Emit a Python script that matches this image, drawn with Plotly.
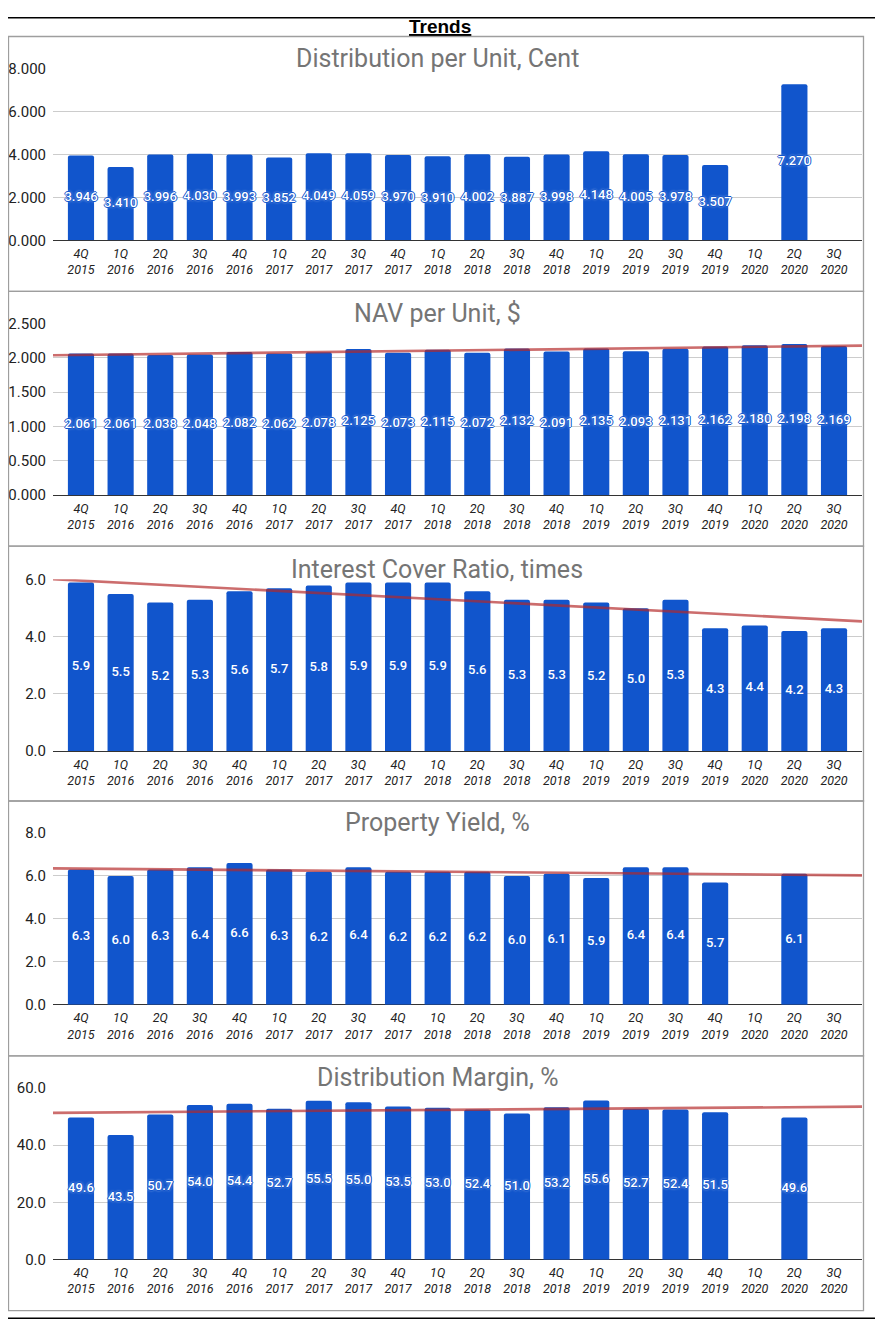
import numpy as np
import plotly.graph_objects as go

# ---- data -------------------------------------------------------------
periods = [
    "4Q<br>2015", "1Q<br>2016", "2Q<br>2016", "3Q<br>2016", "4Q<br>2016",
    "1Q<br>2017", "2Q<br>2017", "3Q<br>2017", "4Q<br>2017", "1Q<br>2018",
    "2Q<br>2018", "3Q<br>2018", "4Q<br>2018", "1Q<br>2019", "2Q<br>2019",
    "3Q<br>2019", "4Q<br>2019", "1Q<br>2020", "2Q<br>2020", "3Q<br>2020",
]

dpu_cent = [3.946, 3.410, 3.996, 4.030, 3.993, 3.852, 4.049, 4.059, 3.970, 3.910,
            4.002, 3.887, 3.998, 4.148, 4.005, 3.978, 3.507, None, 7.270, None]
nav_per_unit = [2.061, 2.061, 2.038, 2.048, 2.082, 2.062, 2.078, 2.125, 2.073, 2.115,
                2.072, 2.132, 2.091, 2.135, 2.093, 2.131, 2.162, 2.180, 2.198, 2.169]
interest_cover = [5.9, 5.5, 5.2, 5.3, 5.6, 5.7, 5.8, 5.9, 5.9, 5.9,
                  5.6, 5.3, 5.3, 5.2, 5.0, 5.3, 4.3, 4.4, 4.2, 4.3]
property_yield = [6.3, 6.0, 6.3, 6.4, 6.6, 6.3, 6.2, 6.4, 6.2, 6.2,
                  6.2, 6.0, 6.1, 5.9, 6.4, 6.4, 5.7, None, 6.1, None]
dist_margin = [49.6, 43.5, 50.7, 54.0, 54.4, 52.7, 55.5, 55.0, 53.5, 53.0,
               52.4, 51.0, 53.2, 55.6, 52.7, 52.4, 51.5, None, 49.6, None]

titles = ["Distribution per Unit, Cent", "NAV per Unit, $", "Interest Cover Ratio, times",
          "Property Yield, %", "Distribution Margin, %"]

# ---- layout helpers ---------------------------------------------------
W, H = 873, 1320
OFF_X = 8            # horizontal page offset of the figure
OFF_Y, SY = 15.5, 0.987  # vertical offset / scale seen in the screenshot


def fx(p):
    return (p - OFF_X) / W


def fy(p):
    return 1 - ((p - OFF_Y) / SY) / H


BLUE = "#1155cc"
TREND = "rgba(180,40,40,0.68)"
X_RANGE = [-0.706, 19.706]
idx = list(range(len(periods)))

panels = [
    # values, label format, y max, dtick, tick format, trendline, outlined labels
    (dpu_cent, "{:.3f}", 8, 2, ".3f", False, True),
    (nav_per_unit, "{:.3f}", 2.5, 0.5, ".3f", True, True),
    (interest_cover, "{:.1f}", 6.02, 2, ".1f", True, False),
    (property_yield, "{:.1f}", 8, 2, ".1f", True, False),
    (dist_margin, "{:.1f}", 60, 20, ".1f", True, True),
]
plot_tops = [67, 322, 578, 832, 1087]
plot_h = 172
box_tops = [35, 290, 545, 800, 1055]
box_h = 255

outline = ("1px 0 0 %s, -1px 0 0 %s, 0 1px 0 %s, 0 -1px 0 %s, "
           "0 0 3px #ffffff" % (BLUE, BLUE, BLUE, BLUE))

fig = go.Figure()
layout = {}
shapes = []
annotations = []

for k, (vals, fmt, ymax, dtick, tfmt, trend, outlined) in enumerate(panels, start=1):
    xa, ya = f"x{k}", f"y{k}"
    fig.add_trace(go.Bar(
        x=idx, y=vals, xaxis=xa, yaxis=ya, width=0.66,
        marker=dict(color=BLUE, line=dict(width=0), cornerradius=2),
        hoverinfo="skip",
    ))
    if trend:
        xs = np.array([i for i, v in zip(idx, vals) if v is not None], dtype=float)
        ys = np.array([v for v in vals if v is not None], dtype=float)
        slope, icept = np.polyfit(xs, ys, 1)
        fig.add_trace(go.Scatter(
            x=X_RANGE, y=[icept + slope * X_RANGE[0], icept + slope * X_RANGE[1]],
            xaxis=xa, yaxis=ya, mode="lines",
            line=dict(color=TREND, width=2.6), hoverinfo="skip",
        ))
    lx = [i for i, v in zip(idx, vals) if v is not None]
    lv = [v for v in vals if v is not None]
    fig.add_trace(go.Scatter(
        x=lx, y=[v / 2 for v in lv], xaxis=xa, yaxis=ya, mode="text",
        text=[fmt.format(v) for v in lv], cliponaxis=False,
        textfont=dict(color="white", size=13, family="Roboto", weight=500,
                      shadow=outline if outlined else "none"),
        hoverinfo="skip",
    ))

    top = plot_tops[k - 1]
    layout[f"xaxis{k}"] = dict(
        domain=[fx(53), fx(862)], range=X_RANGE, anchor=ya,
        tickmode="array", tickvals=idx, ticktext=periods,
        tickfont=dict(size=12.5, color="#222222", family="Roboto", style="italic"),
        showgrid=False, zeroline=False, showline=False, ticks="",
        ticklabelstandoff=4, fixedrange=True,
    )
    layout[f"yaxis{k}"] = dict(
        domain=[fy(top + plot_h), fy(top)], range=[0, ymax], anchor=xa,
        dtick=dtick, tick0=0, tickformat=tfmt,
        tickfont=dict(size=15, color="#222222", family="Roboto"),
        gridcolor="#cccccc", gridwidth=1,
        zeroline=True, zerolinecolor="#333333", zerolinewidth=1,
        showline=False, ticks="", ticklabelstandoff=6, fixedrange=True,
    )

    annotations.append(dict(
        text=titles[k - 1], x=fx(437), y=fy(top - 10), xref="paper", yref="paper",
        xanchor="center", yanchor="middle", showarrow=False,
        font=dict(size=25, color="#757575", family="Roboto"),
    ))

    bt = box_tops[k - 1]
    shapes.append(dict(
        type="rect", xref="paper", yref="paper",
        x0=fx(8.5), x1=fx(863.5), y0=fy(bt + box_h), y1=fy(bt),
        line=dict(color="#9e9e9e", width=1.3), fillcolor="rgba(0,0,0,0)",
    ))

# outer frame and heading
frame_top = 1 - 0.75 / H
frame_bot = 0.75 / H
shapes.append(dict(type="line", xref="paper", yref="paper",
                   x0=0, x1=fx(877), y0=frame_top, y1=frame_top,
                   line=dict(color="#000000", width=1.5)))
shapes.append(dict(type="line", xref="paper", yref="paper",
                   x0=fx(877), x1=fx(877), y0=frame_top, y1=frame_bot,
                   line=dict(color="#000000", width=1.5)))
shapes.append(dict(type="line", xref="paper", yref="paper",
                   x0=0, x1=fx(877), y0=frame_bot, y1=frame_bot,
                   line=dict(color="#000000", width=1.5)))
annotations.append(dict(
    text="<b><u>Trends</u></b>", x=fx(440), y=fy(25), xref="paper", yref="paper",
    xanchor="center", yanchor="middle", showarrow=False,
    font=dict(size=19, color="#000000", family="Liberation Sans"),
))

fig.update_layout(
    width=W, height=H, margin=dict(l=0, r=0, t=0, b=0),
    paper_bgcolor="white", plot_bgcolor="white",
    showlegend=False, shapes=shapes, annotations=annotations,
    **layout,
)

fig.write_html("out.html")
